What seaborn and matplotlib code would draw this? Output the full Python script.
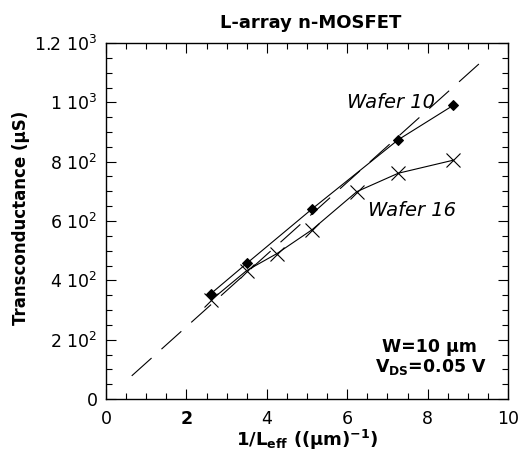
import matplotlib
matplotlib.use("Agg")
import matplotlib.pyplot as plt
import seaborn as sns
import pandas as pd
from matplotlib.ticker import FixedLocator, MultipleLocator

# Transconductance vs. inverse effective gate length, two wafers
inv_leff_w10 = [2.60, 3.50, 5.12, 7.27, 8.64]
gm_w10 = [354, 457, 640, 874, 990]

inv_leff_w16 = [2.62, 3.50, 4.25, 5.12, 6.24, 7.27, 8.64]
gm_w16 = [334, 433, 490, 570, 699, 761, 805]

# Long-channel reference line through the origin
fit_x = [0.64, 9.34]
fit_y = [78, 1137]

x_ticks = [0, 2, 4, 6, 8, 10]
x_tick_labels = ["0", "2", "4", "6", "8", "10"]
y_ticks = [0, 200, 400, 600, 800, 1000, 1200]
y_tick_labels = ["0", r"2 10$^{2}$", r"4 10$^{2}$", r"6 10$^{2}$",
                 r"8 10$^{2}$", r"1 10$^{3}$", r"1.2 10$^{3}$"]

sns.set_style("ticks")
plt.rcParams["font.family"] = ["DejaVu Sans"]
plt.rcParams["mathtext.fontset"] = "dejavusans"
plt.rcParams["text.color"] = "black"
plt.rcParams["axes.labelcolor"] = "black"

df10 = pd.DataFrame({"x": inv_leff_w10, "gm": gm_w10})
df16 = pd.DataFrame({"x": inv_leff_w16, "gm": gm_w16})
dfit = pd.DataFrame({"x": fit_x, "gm": fit_y})

fig = plt.figure(figsize=(5.2, 4.55), dpi=100)
ax = fig.add_axes([106 / 520, 1 - 399 / 455, 402 / 520, 356 / 455])

sns.lineplot(data=dfit, x="x", y="gm", ax=ax, color="black", lw=0.8,
             dashes=False, estimator=None, sort=False)
ax.lines[-1].set_dashes((24, 12))
sns.lineplot(data=df10, x="x", y="gm", ax=ax, color="black", lw=0.8,
             marker="D", markersize=5.5, markeredgecolor="black",
             estimator=None, sort=False)
sns.lineplot(data=df16, x="x", y="gm", ax=ax, color="black", lw=0.8,
             marker="x", markersize=9.5, markeredgewidth=0.8,
             markeredgecolor="black", estimator=None, sort=False)

ax.set_xlim(0, 10)
ax.set_ylim(0, 1200)
ax.xaxis.set_major_locator(FixedLocator(x_ticks))
ax.set_xticklabels(x_tick_labels)
ax.xaxis.set_minor_locator(MultipleLocator(0.5))
ax.yaxis.set_major_locator(FixedLocator(y_ticks))
ax.set_yticklabels(y_tick_labels)
ax.yaxis.set_minor_locator(MultipleLocator(50))
ax.get_xticklabels()[1].set_fontweight("bold")

ax.tick_params(which="both", direction="in", top=True, right=True,
               labelsize=12.5, colors="black", width=0.8)
ax.tick_params(which="major", length=7, pad=6)
ax.tick_params(axis="x", which="major", pad=8)
ax.tick_params(which="minor", length=4)
for s in ax.spines.values():
    s.set_linewidth(1.0)
    s.set_color("black")

ax.set_xlabel(r"1/L$_{\mathbf{eff}}$ ((μm)$^{\mathbf{-1}}$)",
              fontsize=13, fontweight="bold", labelpad=0)
ax.set_ylabel("Transconductance (μS)", fontsize=12, fontweight="bold")
ax.yaxis.set_label_coords(-0.19, 0.508)

ax.text(6.0, 1001, "Wafer 10", fontsize=14, style="italic",
        ha="left", va="center")
ax.text(6.52, 637, "Wafer 16", fontsize=14, style="italic",
        ha="left", va="center")
ax.text(6.87, 175, "W=10 μm", fontsize=12.5, fontweight="bold",
        ha="left", va="center")
ax.text(6.69, 108, r"V$_{\mathbf{DS}}$=0.05 V", fontsize=12.5,
        fontweight="bold", ha="left", va="center")

fig.text(311 / 520, 1 - 23 / 455, "L-array n-MOSFET", fontsize=13,
         fontweight="bold", ha="center", va="center")

fig.savefig("out.png", dpi=100)
